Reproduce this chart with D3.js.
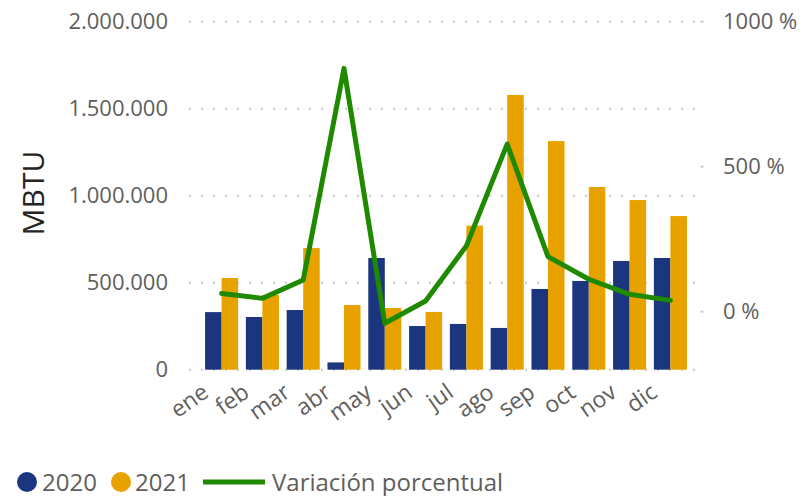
<!DOCTYPE html>
<html>
<head>
<meta charset="utf-8">
<script src="https://cdn.jsdelivr.net/npm/d3@7"></script>
<style>
  body { margin: 0; background: #fff; }
  text { font-family: "Segoe UI", "Open Sans", sans-serif; }
</style>
</head>
<body>
<div id="chart"></div>
<script>
// data
const months = ["ene", "feb", "mar", "abr", "may", "jun", "jul", "ago", "sep", "oct", "nov", "dic"];
const values2020 = [331000, 303000, 343000, 42000, 642000, 251000, 263000, 240000, 464000, 510000, 625000, 642000];
const values2021 = [527000, 430000, 699000, 372000, 355000, 332000, 828000, 1579000, 1314000, 1050000, 975000, 883000];
const variation = [63, 46, 109, 839, -40, 37, 227, 578, 190, 112, 60, 39];
const leftTicks = [0, 500000, 1000000, 1500000, 2000000];
const rightTicks = [0, 500, 1000];
const seriesNames = ["2020", "2021"];

const width = 802, height = 496;
const textColor = "#605e5c";
const colors = { "2020": "#1b367f", "2021": "#e8a200" };
const lineColor = "#1f8a00";

const svg = d3.select("#chart").append("svg")
    .attr("width", width)
    .attr("height", height);

const plotLeft = 189, plotRight = 694;
const y0 = 369.7, yTop = 21.7;

const x = d3.scaleBand().domain(months).range([201, 691]).paddingInner(0.19).paddingOuter(0.1);
const xSub = d3.scaleBand().domain(seriesNames).range([0, x.bandwidth()]);
const yL = d3.scaleLinear().domain([0, 2000000]).range([y0, yTop]);
const yR = d3.scaleLinear().domain([-200, 1000]).range([y0, yTop]);

const locale = d3.formatLocale({ decimal: ",", thousands: ".", grouping: [3], currency: ["", "€"] });
const fmt = locale.format(",d");

// gridlines (dotted)
svg.append("g").selectAll("line")
    .data(leftTicks)
    .join("line")
    .attr("x1", plotLeft).attr("x2", plotRight + 1)
    .attr("y1", d => yL(d)).attr("y2", d => yL(d))
    .attr("stroke", "#c8c8c8")
    .attr("stroke-width", 2)
    .attr("stroke-dasharray", "2,10");

// small marks for the right axis grid
svg.append("g").selectAll("line")
    .data(rightTicks)
    .join("line")
    .attr("x1", 700.5).attr("x2", 703.5)
    .attr("y1", d => yR(d)).attr("y2", d => yR(d))
    .attr("stroke", "#c8c8c8")
    .attr("stroke-width", 2);

// left axis
const axL = svg.append("g")
    .attr("transform", `translate(${plotLeft},0)`)
    .call(d3.axisLeft(yL).tickValues(leftTicks).tickSize(0).tickPadding(21).tickFormat(fmt));
axL.select(".domain").remove();
axL.selectAll("text")
    .attr("fill", textColor)
    .style("font-size", "22px");

// right axis
const axR = svg.append("g")
    .attr("transform", `translate(723,0)`)
    .call(d3.axisRight(yR).tickValues(rightTicks).tickSize(0).tickPadding(0).tickFormat(d => d + " %"));
axR.select(".domain").remove();
axR.selectAll("text")
    .attr("fill", textColor)
    .style("font-size", "22px");

// bars
const groups = svg.append("g").selectAll("g")
    .data(months.map((m, i) => ({ month: m, vals: [values2020[i], values2021[i]] })))
    .join("g")
    .attr("transform", d => `translate(${x(d.month)},0)`);

groups.selectAll("rect")
    .data(d => d.vals.map((v, j) => ({ key: seriesNames[j], value: v })))
    .join("rect")
    .attr("x", d => xSub(d.key))
    .attr("width", xSub.bandwidth())
    .attr("y", d => yL(d.value))
    .attr("height", d => y0 - yL(d.value))
    .attr("fill", d => colors[d.key]);

// month labels
svg.append("g").selectAll("text")
    .data(months)
    .join("text")
    .attr("transform", d => `translate(${x(d) + x.bandwidth() / 2 - 11.5},${y0 + 26}) rotate(-35)`)
    .attr("text-anchor", "end")
    .attr("fill", textColor)
    .style("font-size", "23px")
    .text(d => d);

// variation line
const line = d3.line()
    .x((d, i) => x(months[i]) + x.bandwidth() / 2)
    .y(d => yR(d));

svg.append("path")
    .datum(variation)
    .attr("d", line)
    .attr("fill", "none")
    .attr("stroke", lineColor)
    .attr("stroke-width", 5)
    .attr("stroke-linejoin", "round")
    .attr("stroke-linecap", "round");

// y axis title
svg.append("text")
    .attr("transform", "translate(44,193) rotate(-90)")
    .attr("text-anchor", "middle")
    .attr("fill", "#252423")
    .style("font-size", "30px")
    .text("MBTU");

// legend
const legend = svg.append("g").attr("transform", "translate(0,481)");
legend.append("circle").attr("cx", 27).attr("cy", 1).attr("r", 10).attr("fill", colors["2020"]);
legend.append("text").attr("x", 42).attr("y", 0).attr("dominant-baseline", "central")
    .attr("fill", textColor).style("font-size", "24px").text("2020");
legend.append("circle").attr("cx", 121).attr("cy", 1).attr("r", 10).attr("fill", colors["2021"]);
legend.append("text").attr("x", 135).attr("y", 0).attr("dominant-baseline", "central")
    .attr("fill", textColor).style("font-size", "24px").text("2021");
legend.append("line").attr("x1", 203).attr("x2", 265).attr("y1", 1).attr("y2", 1)
    .attr("stroke", lineColor).attr("stroke-width", 5);
legend.append("text").attr("x", 272).attr("y", 0).attr("dominant-baseline", "central")
    .attr("fill", textColor).style("font-size", "24px").text("Variación porcentual");
</script>
</body>
</html>
